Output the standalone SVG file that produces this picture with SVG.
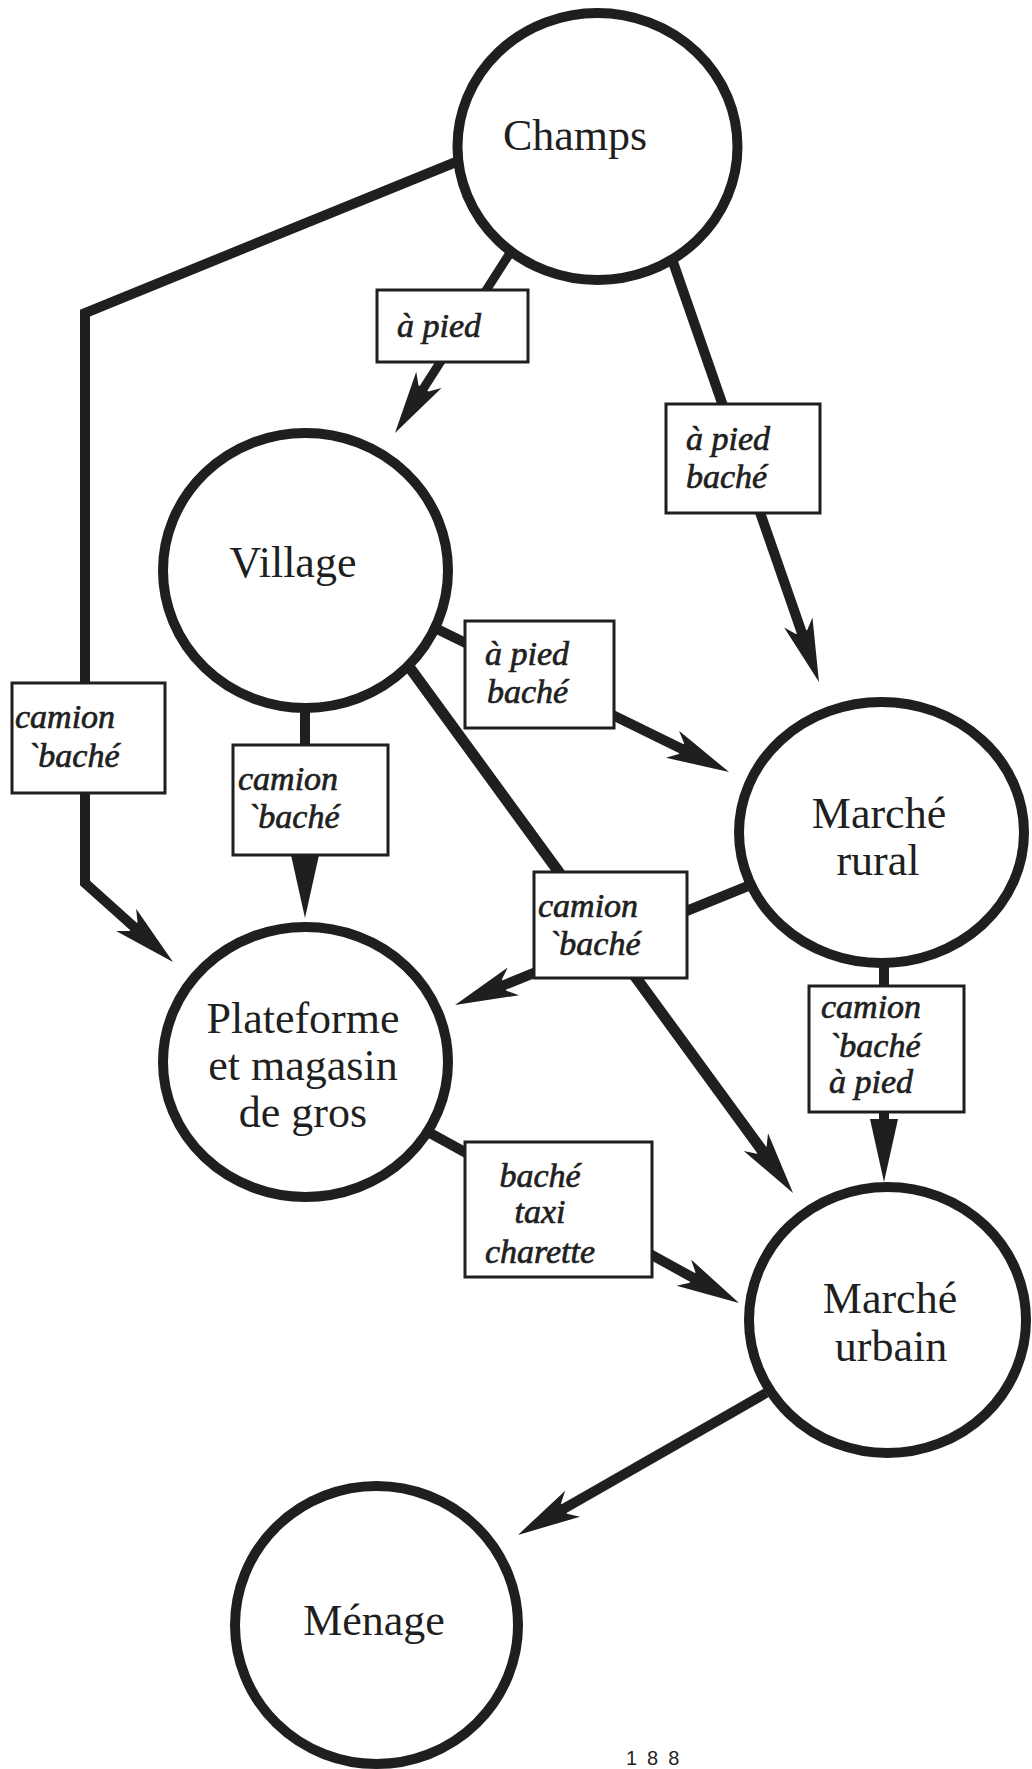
<svg xmlns="http://www.w3.org/2000/svg" width="1032" height="1769" viewBox="0 0 1032 1769">
  <style>
    .bg { fill: #ffffff; }
    .node { fill: #ffffff; stroke: #1f1f1f; stroke-width: 10; }
    .ntext { font-family: "Liberation Serif", "Times New Roman", serif; font-size: 44px; fill: #1f1f1f; text-anchor: middle; }
    .edge { fill: none; stroke: #1f1f1f; stroke-linejoin: miter; stroke-linecap: butt; }
    .lbox { fill: #ffffff; stroke: #1f1f1f; stroke-width: 3; }
    .ltext { font-family: "Liberation Serif", "Times New Roman", serif; font-style: italic; font-size: 34px; fill: #1f1f1f; stroke: #1f1f1f; stroke-width: 0.7; }
    .pnum { font-family: "Liberation Sans", Arial, sans-serif; font-size: 20px; fill: #1f1f1f; letter-spacing: 10px; }
  </style>
  <defs>
    <marker id="ah" markerUnits="userSpaceOnUse" viewBox="-20 -17 66 34" refX="0" refY="0" markerWidth="66" markerHeight="34" orient="auto">
      <path d="M45,0 L-18,-15 L-8,-6 L-8,6 L-18,15 Z" fill="#1f1f1f"/>
    </marker>
    <marker id="tri" markerUnits="userSpaceOnUse" viewBox="-19 -16 65 32" refX="0" refY="0" markerWidth="65" markerHeight="32" orient="auto">
      <path d="M45,0 L-18,-14 L-18,14 Z" fill="#1f1f1f"/>
    </marker>
  </defs>
  <rect class="bg" x="0" y="0" width="1032" height="1769"/>

  <g id="connectors">
    <path id="e-champs-plateforme" class="edge" stroke-width="10" d="M456,162 L85,313 L85,883 L139.5,931.9" marker-end="url(#ah)"/>
    <path id="e-champs-village" class="edge" stroke-width="9" d="M510,253 L419.2,395.1" marker-end="url(#ah)"/>
    <path id="e-champs-rural" class="edge" stroke-width="10" d="M673,262 L804.2,639.5" marker-end="url(#ah)"/>
    <path id="e-village-rural" class="edge" stroke-width="10" d="M433,627 L688.6,752.2" marker-end="url(#ah)"/>
    <path id="e-village-urbain" class="edge" stroke-width="11" d="M410,668 L766.5,1156.6" marker-end="url(#ah)"/>
    <path id="e-rural-plateforme" class="edge" stroke-width="10" d="M748,886 L496.7,988.1" marker-end="url(#ah)"/>
    <path id="e-plateforme-urbain" class="edge" stroke-width="10" d="M430,1133 L699.6,1281.3" marker-end="url(#ah)"/>
    <path id="e-urbain-menage" class="edge" stroke-width="10" d="M766,1393 L557,1512.6" marker-end="url(#ah)"/>
    <path id="e-village-plateforme" class="edge" stroke-width="10" d="M305,710 L305,873" marker-end="url(#tri)"/>
    <path id="e-rural-urbain" class="edge" stroke-width="10" d="M884,965 L884,1137" marker-end="url(#tri)"/>
  </g>

  <g id="edge-labels">
    <g id="l-champs-village">
      <rect class="lbox" x="377" y="290" width="151" height="72"/>
      <text class="ltext" x="397" y="337">à pied</text>
    </g>
    <g id="l-champs-rural">
      <rect class="lbox" x="666" y="404" width="154" height="109"/>
      <text class="ltext" x="686" y="450">à pied</text>
      <text class="ltext" x="686" y="488">baché</text>
    </g>
    <g id="l-champs-plateforme">
      <rect class="lbox" x="12" y="683" width="153" height="110"/>
      <text class="ltext" x="15" y="728">camion</text>
      <text class="ltext" x="27" y="767">`baché</text>
    </g>
    <g id="l-village-plateforme">
      <rect class="lbox" x="233" y="745" width="155" height="110"/>
      <text class="ltext" x="238" y="790">camion</text>
      <text class="ltext" x="247" y="828">`baché</text>
    </g>
    <g id="l-village-rural">
      <rect class="lbox" x="465" y="621" width="149" height="107"/>
      <text class="ltext" x="485" y="665">à pied</text>
      <text class="ltext" x="487" y="703">baché</text>
    </g>
    <g id="l-village-urbain">
      <rect class="lbox" x="534" y="872" width="153" height="106"/>
      <text class="ltext" x="538" y="917">camion</text>
      <text class="ltext" x="548" y="955">`baché</text>
    </g>
    <g id="l-rural-urbain">
      <rect class="lbox" x="809" y="986" width="155" height="126"/>
      <text class="ltext" x="821" y="1018">camion</text>
      <text class="ltext" x="828" y="1057">`baché</text>
      <text class="ltext" x="829" y="1093">à pied</text>
    </g>
    <g id="l-plateforme-urbain">
      <rect class="lbox" x="465" y="1142" width="187" height="135"/>
      <text class="ltext" x="540" y="1187" text-anchor="middle">baché</text>
      <text class="ltext" x="540" y="1223" text-anchor="middle">taxi</text>
      <text class="ltext" x="540" y="1263" text-anchor="middle">charette</text>
    </g>
  </g>

  <g id="node-champs">
    <ellipse class="node" cx="597.5" cy="146.5" rx="140" ry="133.5"/>
    <text class="ntext" x="575" y="150">Champs</text>
  </g>
  <g id="node-village">
    <ellipse class="node" cx="305.5" cy="570.5" rx="142.5" ry="137.5"/>
    <text class="ntext" x="293" y="577">Village</text>
  </g>
  <g id="node-marche-rural">
    <ellipse class="node" cx="881.5" cy="832.5" rx="142.5" ry="130.5"/>
    <text class="ntext" x="879" y="828">Marché</text>
    <text class="ntext" x="878" y="875">rural</text>
  </g>
  <g id="node-plateforme">
    <ellipse class="node" cx="305.5" cy="1062" rx="142.5" ry="135"/>
    <text class="ntext" x="303" y="1033">Plateforme</text>
    <text class="ntext" x="303" y="1080">et magasin</text>
    <text class="ntext" x="303" y="1127">de gros</text>
  </g>
  <g id="node-marche-urbain">
    <ellipse class="node" cx="887.5" cy="1320" rx="138.5" ry="133"/>
    <text class="ntext" x="890" y="1313">Marché</text>
    <text class="ntext" x="891" y="1361">urbain</text>
  </g>
  <g id="node-menage">
    <ellipse class="node" cx="376.5" cy="1625" rx="141.5" ry="139"/>
    <text class="ntext" x="374" y="1635">Ménage</text>
  </g>

  <text class="pnum" x="626" y="1765">188</text>
</svg>
